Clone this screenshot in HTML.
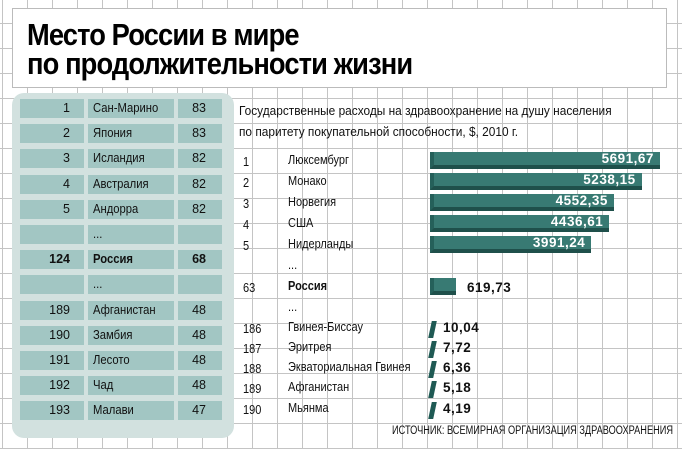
<!DOCTYPE html>
<html><head><meta charset="utf-8"><style>
*{margin:0;padding:0;box-sizing:border-box}
body{width:682px;height:449px;overflow:hidden;background:#fff;position:relative;font-family:"Liberation Sans",sans-serif;}
.grid{position:absolute;left:0;top:0;width:682px;height:449px;
background-image:linear-gradient(to right,#c4c4c4 1px,transparent 1px),linear-gradient(to bottom,#c4c4c4 1px,transparent 1px);
background-size:25px 25px;background-position:2px 23px;}
.a{position:absolute;white-space:nowrap}
.title{left:12px;top:8px;width:655px;height:80px;background:#fff;border:1px solid #bbb}
.t{font-weight:bold;font-size:31px;letter-spacing:-1px;color:#000;transform:scaleX(.88);transform-origin:left}
.panel{left:12px;top:93px;width:222px;height:345px;background:#d2e1df;border-radius:12px}
.c{position:absolute;height:19px;background:#a2c6c3;font-size:12.5px;line-height:19px;color:#111}
.c span{display:inline-block;transform:scaleX(.9);transform-origin:left}
.r{font-size:12.5px;color:#111;transform:scaleX(.88);transform-origin:left}
.h{font-size:12.5px;color:#111;transform:scaleX(.95);transform-origin:left}
.bar{position:absolute;height:17px;background:#387a73;border-bottom:4px solid #1f504b;border-left:4px solid #25605a;color:#fff;font-weight:bold;font-size:13.5px;text-align:right;padding-right:6px;line-height:14px;letter-spacing:.5px}
.v{font-weight:bold;font-size:13.5px;color:#111;letter-spacing:.5px}
.sl{position:absolute;width:5px;height:17px;background:#1f5a54;transform:skewX(-12deg)}
</style></head><body>
<div class="grid"></div>
<div class="a title"></div>
<div class="a t" style="left:27px;top:17px">Место России в мире</div>
<div class="a t" style="left:27px;top:46px">по продолжительности жизни</div>
<div class="a panel"></div>
<div id="tbl"></div>
<div class="a h" style="left:239px;top:104px">Государственные расходы на здравоохранение на душу населения</div>
<div class="a h" style="left:239px;top:125px">по паритету покупательной способности, $, 2010 г.</div>
<div id="lst"></div>
<div class="a" style="left:392px;top:425px;font-size:11.5px;transform:scaleX(.8);transform-origin:left;color:#111">ИСТОЧНИК: ВСЕМИРНАЯ ОРГАНИЗАЦИЯ ЗДРАВООХРАНЕНИЯ</div>
<script>
var rows=[["1","Сан-Марино","83"],["2","Япония","83"],["3","Исландия","82"],["4","Австралия","82"],["5","Андорра","82"],["","...",""],["124","Россия","68"],["","...",""],["189","Афганистан","48"],["190","Замбия","48"],["191","Лесото","48"],["192","Чад","48"],["193","Малави","47"]];
var h="";rows.forEach(function(r,i){var y=99+i*25.2;var b=r[1]=="Россия"?"font-weight:bold;":"";
h+='<div class="c" style="left:20px;top:'+y+'px;width:64px;text-align:right;padding-right:14px;'+b+'">'+r[0]+'</div>';
h+='<div class="c" style="left:88px;top:'+y+'px;width:86px;padding-left:5px;'+b+'"><span>'+r[1]+'</span></div>';
h+='<div class="c" style="left:178px;top:'+y+'px;width:44px;text-align:right;padding-right:16px;'+b+'">'+r[2]+'</div>';});
document.getElementById("tbl").innerHTML=h;
var L=[["1","Люксембург",5691.67,162],["2","Монако",5238.15,183],["3","Норвегия",4552.35,204],["4","США",4436.61,225],["5","Нидерланды",3991.24,246],["","...",null,267],["63","Россия",619.73,288],["","...",null,309],["186","Гвинея-Биссау",10.04,329],["187","Эритрея",7.72,349],["188","Экваториальная Гвинея",6.36,369],["189","Афганистан",5.18,389],["190","Мьянма",4.19,410]];
h="";L.forEach(function(r){var y=r[3];var b=r[1]=="Россия"?"font-weight:bold;":"";
h+='<div class="a r" style="left:243px;top:'+(y-7)+'px;">'+r[0]+'</div>';
h+='<div class="a r" style="left:288px;top:'+(y-9)+'px;'+b+'">'+r[1]+'</div>';
if(r[2]!=null){var s=r[2].toFixed(2).replace(".",",");
if(r[2]>1000){var w=r[2]*0.0404;h+='<div class="bar" style="left:430px;top:'+(y-10)+'px;width:'+w+'px">'+s+'</div>';}
else if(r[2]>100){h+='<div class="bar" style="left:430px;top:'+(y-10)+'px;width:26px"></div><div class="a v" style="left:467px;top:'+(y-8)+'px">'+s+'</div>';}
else{h+='<div class="sl" style="left:430px;top:'+(y-8)+'px"></div><div class="a v" style="left:443px;top:'+(y-9)+'px">'+s+'</div>';}}});
document.getElementById("lst").innerHTML=h;
</script>
</body></html>
